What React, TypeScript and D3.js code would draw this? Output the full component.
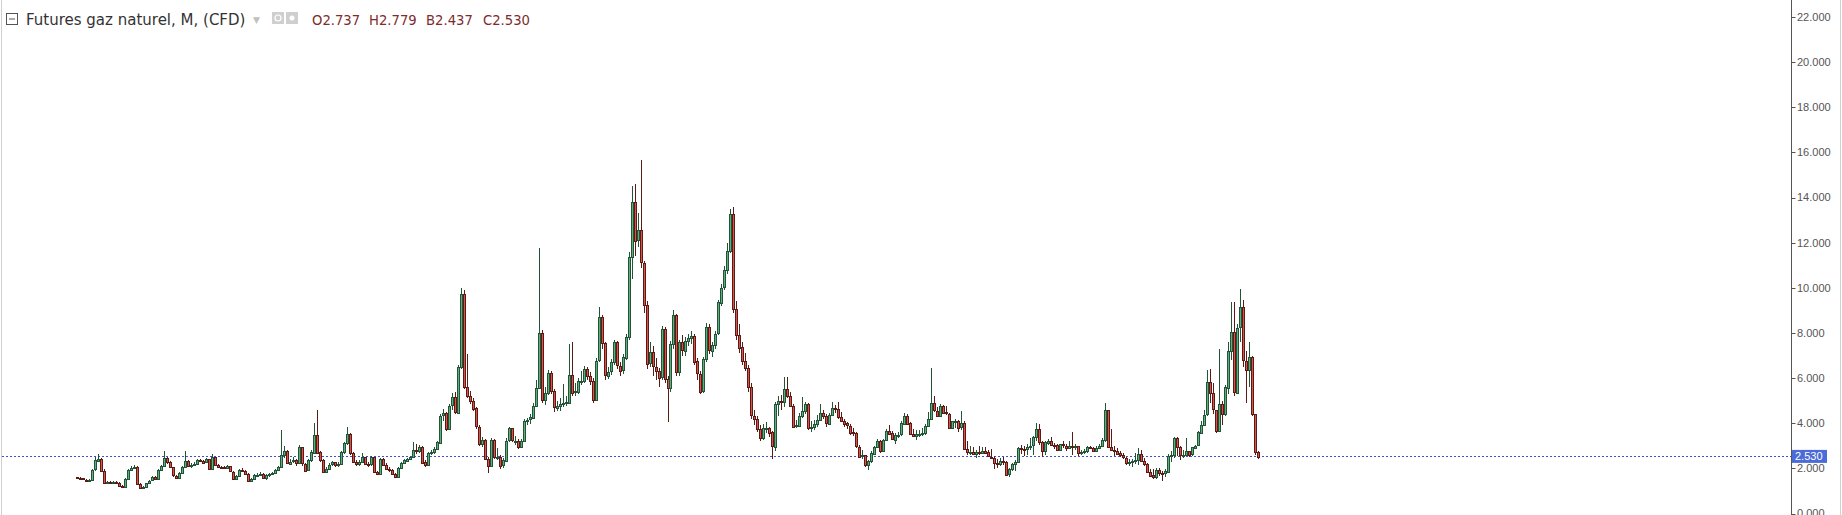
import React, { useEffect, useRef } from "react";
import * as d3 from "d3";

// Monthly candles, Apr 1990 -> Feb 2023 (open = previous close)
const firstOpen = 1.6;

const closes = [
  1.58, 1.56, 1.5, 1.45, 1.47, 1.93, 2.35, 2.42, 1.9,
  1.39, 1.39, 1.38, 1.4, 1.36, 1.22, 1.19, 1.53, 1.93, 2.02, 2.08, 1.31,
  1.14, 1.17, 1.34, 1.45, 1.6, 1.52, 1.93, 2.11, 2.46, 2.29, 2.05, 1.68,
  1.58, 1.8, 2.05, 2.33, 2.11, 2.17, 2.2, 2.37, 2.33, 2.25, 2.4, 1.96,
  2.5, 2.16, 2.06, 2.04, 2.0, 2.1, 1.86, 1.55, 1.67, 1.93, 1.9, 1.76,
  1.45, 1.52, 1.71, 1.72, 1.75, 1.58, 1.7, 1.75, 1.8, 1.92, 2.05, 2.6,
  2.76, 2.23, 2.3, 2.35, 2.2, 2.93, 2.2, 1.9, 2.35, 2.71, 3.5, 2.71,
  2.35, 1.83, 1.98, 2.17, 2.26, 2.14, 2.2, 2.71, 3.11, 3.53, 2.67, 2.27,
  2.2, 2.27, 2.49, 2.2, 2.17, 2.49, 1.83, 1.76, 2.42, 2.17, 1.98, 1.93,
  1.76, 1.64, 2.02, 2.23, 2.35, 2.42, 2.49, 2.82, 2.79, 2.96, 2.27, 2.14,
  2.67, 2.71, 2.86, 3.15, 4.34, 4.44, 3.75, 4.78, 5.15, 4.48, 6.5, 9.72,
  5.62, 5.22, 5.0, 4.66, 3.85, 3.08, 3.26, 2.42, 2.12, 3.26, 2.49, 2.52,
  2.12, 2.35, 3.23, 3.77, 3.23, 3.23, 2.96, 3.23, 4.12, 4.15, 4.26, 4.78,
  5.57, 8.02, 5.03, 5.32, 6.21, 5.41, 4.68, 4.78, 4.85, 4.88, 4.93, 6.15,
  5.37, 5.41, 5.88, 5.88, 6.4, 6.1, 5.88, 5.03, 6.77, 8.69, 7.54, 6.1,
  6.28, 6.7, 7.58, 6.55, 6.33, 6.92, 7.83, 11.37, 13.82, 12.1, 12.55, 11.12,
  9.25, 6.65, 7.14, 6.5, 6.33, 6.03, 8.17, 5.96, 5.56, 7.51, 8.79, 6.25,
  7.58, 7.21, 7.65, 7.77, 7.88, 6.74, 6.2, 5.41, 6.84, 8.25, 7.21, 7.47,
  7.96, 9.35, 10.01, 10.78, 11.64, 13.29, 9.06, 7.92, 7.36, 6.74, 6.45, 5.59,
  4.34, 4.19, 3.75, 3.35, 3.79, 3.8, 3.6, 2.96, 4.85, 5.0, 4.95, 5.52,
  5.22, 4.78, 3.85, 3.9, 4.34, 4.56, 4.85, 3.79, 3.85, 3.97, 4.15, 4.44,
  4.3, 4.0, 4.38, 4.68, 4.63, 4.29, 4.12, 4.0, 3.89, 3.6, 3.55, 2.96,
  2.52, 2.57, 2.12, 2.31, 2.67, 2.96, 3.23, 2.79, 3.26, 3.67, 3.55, 3.3,
  3.5, 3.5, 4.0, 4.34, 4.0, 3.53, 3.45, 3.53, 3.53, 3.58, 3.89, 4.19,
  4.88, 4.56, 4.34, 4.78, 4.48, 4.43, 3.79, 4.08, 4.12, 3.82, 4.0, 2.86,
  2.71, 2.71, 2.64, 2.71, 2.68, 2.79, 2.71, 2.52, 2.46, 2.23, 2.2, 2.34,
  2.3, 1.73, 1.96, 2.18, 2.29, 2.92, 2.88, 2.85, 2.96, 3.01, 3.38, 3.73,
  3.15, 2.76, 3.15, 3.23, 3.05, 3.03, 2.79, 3.06, 3.0, 2.9, 3.01, 2.96,
  2.99, 2.67, 2.73, 2.77, 2.95, 2.92, 2.79, 2.91, 3.0, 3.27, 4.59, 2.94,
  2.81, 2.79, 2.67, 2.57, 2.46, 2.25, 2.3, 2.33, 2.38, 2.64, 2.33, 2.2,
  1.86, 1.7, 1.61, 1.93, 1.8, 1.76, 1.87, 2.56, 2.61, 3.35, 2.93, 2.57,
  2.61, 2.79, 2.61, 2.93, 3.01, 3.6, 3.94, 4.38, 5.81, 5.32, 4.59, 3.67,
  4.85, 4.4, 5.59, 7.21, 8.05, 5.37, 8.23, 9.13, 6.77, 6.36, 6.92, 4.41,
  2.737, 2.53,
];

const highs = [
  1.62, 1.61, 1.58, 1.52, 1.53, 1.97, 2.52, 2.64, 2.46,
  1.95, 1.44, 1.43, 1.44, 1.42, 1.38, 1.27, 1.56, 1.98, 2.1, 2.14, 2.1,
  1.33, 1.22, 1.37, 1.5, 1.64, 1.65, 1.97, 2.16, 2.79, 2.5, 2.32, 2.08,
  1.72, 1.84, 2.1, 2.79, 2.36, 2.25, 2.28, 2.42, 2.42, 2.38, 2.45, 2.42,
  2.64, 2.52, 2.2, 2.12, 2.1, 2.16, 2.12, 1.9, 1.72, 1.98, 2.0, 1.94,
  1.78, 1.58, 1.75, 1.8, 1.82, 1.78, 1.74, 1.8, 1.84, 1.96, 2.1, 3.7,
  3.0, 2.8, 2.42, 2.5, 2.42, 3.02, 2.95, 2.25, 2.42, 2.8, 4.01, 4.59,
  2.78, 2.4, 2.05, 2.22, 2.32, 2.3, 2.26, 2.76, 3.18, 3.85, 3.55, 2.72,
  2.35, 2.35, 2.67, 2.52, 2.28, 2.55, 2.52, 1.9, 2.48, 2.45, 2.22, 2.05,
  1.98, 1.8, 2.08, 2.28, 2.42, 2.48, 2.56, 3.15, 3.1, 3.05, 3.0, 2.35,
  2.72, 2.8, 2.95, 3.22, 4.4, 4.62, 4.5, 4.85, 5.32, 5.4, 6.6, 10.01,
  9.9, 7.07, 5.45, 5.1, 4.7, 3.9, 3.4, 3.3, 2.5, 3.35, 3.3, 2.9,
  2.6, 2.45, 3.35, 3.85, 3.8, 3.45, 3.3, 3.3, 4.2, 4.25, 4.4, 4.9,
  5.9, 11.78, 8.15, 5.6, 6.35, 6.3, 5.5, 5.0, 5.1, 5.74, 5.2, 7.51,
  7.58, 5.8, 6.0, 6.3, 6.55, 6.5, 6.25, 6.0, 6.9, 9.16, 8.8, 7.6,
  6.5, 6.85, 7.7, 7.65, 6.7, 7.05, 7.95, 11.6, 14.5, 14.6, 13.3, 15.65,
  11.2, 9.4, 7.6, 7.4, 6.9, 6.45, 8.3, 8.25, 6.1, 7.65, 9.0, 8.85,
  7.7, 7.9, 7.8, 7.95, 8.1, 7.95, 6.9, 6.3, 6.95, 8.45, 8.4, 7.6,
  8.1, 9.45, 10.15, 10.95, 12.0, 13.5, 13.6, 9.4, 8.4, 7.6, 7.1, 6.6,
  5.8, 4.6, 4.3, 3.9, 3.95, 4.05, 3.85, 3.65, 4.95, 5.2, 5.25, 6.03,
  6.06, 5.4, 4.85, 4.15, 4.45, 5.15, 4.95, 4.9, 4.1, 4.15, 4.35, 4.85,
  4.6, 4.4, 4.45, 4.93, 4.8, 4.93, 4.5, 4.2, 4.05, 3.95, 3.8, 3.6,
  3.05, 2.8, 2.6, 2.35, 2.75, 3.0, 3.3, 3.25, 3.3, 3.75, 3.9, 3.65,
  3.55, 3.6, 4.1, 4.45, 4.4, 4.05, 3.75, 3.7, 3.7, 3.8, 3.95, 4.5,
  6.44, 5.2, 4.7, 4.85, 4.8, 4.75, 4.45, 4.1, 4.2, 4.15, 4.53, 4.1,
  3.2, 3.0, 2.95, 2.8, 3.0, 2.95, 2.95, 2.8, 2.85, 2.55, 2.4, 2.45,
  2.5, 2.32, 2.0, 2.22, 2.35, 2.96, 3.05, 3.0, 3.1, 3.35, 3.45, 3.99,
  3.95, 3.2, 3.2, 3.3, 3.4, 3.12, 3.1, 3.1, 3.2, 3.1, 3.2, 3.6,
  3.1, 3.0, 2.8, 2.85, 3.0, 3.0, 2.95, 3.0, 3.1, 3.33, 4.88, 4.6,
  3.75, 3.0, 2.9, 2.75, 2.7, 2.5, 2.4, 2.4, 2.7, 2.9, 2.8, 2.45,
  2.25, 1.98, 1.95, 2.0, 2.0, 1.9, 1.95, 2.62, 2.75, 3.4, 3.4, 3.0,
  2.8, 3.35, 2.75, 2.95, 3.05, 3.65, 4.1, 4.6, 6.36, 6.4, 5.8, 4.6,
  7.29, 5.0, 5.7, 7.58, 9.35, 9.35, 8.4, 9.94, 9.45, 7.2, 7.6, 7.0,
  4.4, 2.779,
];

const lows = [
  1.53, 1.52, 1.47, 1.41, 1.42, 1.45, 1.9, 2.28, 1.86,
  1.36, 1.35, 1.34, 1.35, 1.32, 1.18, 1.14, 1.17, 1.5, 1.88, 1.98, 1.28,
  1.1, 1.1, 1.14, 1.3, 1.42, 1.48, 1.5, 1.9, 2.08, 2.2, 2.0, 1.62,
  1.52, 1.55, 1.78, 2.02, 2.05, 2.0, 2.12, 2.18, 2.27, 2.18, 2.22, 1.92,
  1.94, 2.1, 2.0, 1.98, 1.95, 1.96, 1.82, 1.5, 1.52, 1.62, 1.85, 1.72,
  1.4, 1.38, 1.48, 1.66, 1.68, 1.52, 1.5, 1.62, 1.7, 1.76, 1.88, 2.02,
  2.45, 2.18, 2.15, 2.22, 2.1, 2.18, 2.12, 1.84, 1.88, 2.3, 2.68, 2.65,
  2.3, 1.78, 1.8, 1.95, 2.1, 2.08, 2.08, 2.18, 2.65, 3.05, 2.6, 2.22,
  2.1, 2.12, 2.22, 2.15, 2.05, 2.12, 1.78, 1.7, 1.72, 2.1, 1.92, 1.86,
  1.72, 1.6, 1.62, 1.98, 2.18, 2.3, 2.36, 2.45, 2.62, 2.7, 2.2, 2.05,
  2.1, 2.58, 2.65, 2.82, 3.1, 4.1, 3.65, 3.7, 4.6, 4.4, 4.45, 6.4,
  5.5, 5.1, 4.85, 4.55, 3.75, 3.0, 2.95, 2.35, 1.81, 2.05, 2.4, 2.35,
  1.95, 2.0, 2.3, 3.15, 3.15, 3.05, 2.85, 2.9, 3.2, 3.9, 3.95, 4.2,
  4.7, 5.5, 4.9, 4.8, 5.25, 5.3, 4.5, 4.55, 4.55, 4.7, 4.75, 4.9,
  5.2, 5.2, 5.3, 5.7, 5.8, 5.9, 5.7, 4.9, 5.0, 6.7, 7.3, 5.9,
  5.95, 6.15, 6.6, 6.4, 6.1, 6.2, 6.8, 7.7, 10.4, 11.4, 11.8, 10.9,
  8.9, 6.4, 6.5, 6.1, 5.9, 5.6, 5.9, 5.8, 4.04, 5.4, 7.3, 6.1,
  6.1, 7.0, 7.0, 7.4, 7.5, 6.6, 5.9, 5.3, 5.35, 6.7, 7.05, 6.95,
  7.3, 7.9, 9.2, 9.9, 10.6, 11.55, 8.9, 7.7, 7.1, 6.6, 6.3, 5.4,
  4.2, 3.9, 3.6, 3.2, 3.25, 3.55, 3.4, 2.42, 2.75, 4.3, 4.6, 4.7,
  5.1, 4.7, 3.8, 3.8, 3.85, 4.25, 4.4, 3.7, 3.6, 3.7, 3.85, 4.1,
  4.2, 3.85, 3.95, 4.3, 4.45, 4.2, 4.05, 3.85, 3.75, 3.5, 3.45, 2.9,
  2.45, 2.4, 2.05, 1.93, 2.25, 2.6, 2.9, 2.7, 2.75, 3.2, 3.5, 3.25,
  3.1, 3.35, 3.45, 3.9, 3.95, 3.5, 3.4, 3.25, 3.4, 3.45, 3.5, 3.85,
  4.15, 4.5, 4.3, 4.3, 4.4, 4.35, 3.75, 3.75, 3.8, 3.6, 3.7, 2.8,
  2.6, 2.6, 2.6, 2.46, 2.6, 2.65, 2.65, 2.5, 2.4, 1.97, 2.0, 2.1,
  2.15, 1.7, 1.61, 1.9, 1.9, 2.25, 2.65, 2.55, 2.6, 2.8, 2.6, 3.2,
  3.05, 2.52, 2.6, 3.05, 3.0, 2.85, 2.75, 2.75, 2.9, 2.75, 2.9, 2.6,
  2.8, 2.55, 2.6, 2.65, 2.7, 2.85, 2.72, 2.76, 2.85, 2.98, 3.15, 2.9,
  2.75, 2.55, 2.6, 2.5, 2.4, 2.15, 2.1, 2.05, 2.2, 2.15, 2.3, 2.1,
  1.85, 1.65, 1.55, 1.55, 1.65, 1.46, 1.6, 1.85, 2.3, 2.45, 2.55, 2.35,
  2.45, 2.55, 2.5, 2.55, 2.85, 3.0, 3.55, 3.9, 4.3, 4.9, 4.4, 3.55,
  3.6, 3.9, 4.3, 5.3, 6.8, 5.2, 5.3, 7.6, 6.5, 4.9, 5.6, 4.3,
  2.6, 2.437,
];

const priceTicks = [0, 2, 4, 6, 8, 10, 12, 14, 16, 18, 20, 22];
const lastPrice = 2.53;
const legendLetters = ["O", "H", "B", "C"];
const legendValues = [2.737, 2.779, 2.437, 2.53];

const W = 1842;
const H = 515;

export default function App() {
  const ref = useRef<SVGSVGElement>(null);

  useEffect(() => {
    if (!ref.current) return;
    const svg = d3.select(ref.current);
    svg.selectAll("*").remove();

    const x = d3.scaleLinear().domain([0, closes.length - 1]).range([77, 1258]);
    const y = d3.scaleLinear().domain([0, 22]).range([513.5, 17]);
    const fmt = d3.format(".3f");

    svg.append("rect").attr("width", W).attr("height", H).attr("fill", "#ffffff");

    // borders
    svg.append("line").attr("x1", 1.5).attr("x2", 1.5).attr("y1", 0).attr("y2", H)
      .attr("stroke", "#d0d0d0");
    svg.append("line").attr("x1", W - 1.5).attr("x2", W - 1.5).attr("y1", 0).attr("y2", H)
      .attr("stroke", "#d0d0d0");

    // last price dashed line
    svg.append("line")
      .attr("x1", 2).attr("x2", 1791)
      .attr("y1", Math.round(y(lastPrice)) + 0.5).attr("y2", Math.round(y(lastPrice)) + 0.5)
      .attr("stroke", "#3f51c4").attr("stroke-dasharray", "2,2").attr("stroke-width", 1);

    const data = closes.map((c, i) => ({
      i,
      o: i === 0 ? firstOpen : closes[i - 1],
      h: highs[i],
      l: lows[i],
      c,
    }));

    const g = svg.append("g").attr("shape-rendering", "crispEdges");
    const candle = g.selectAll("g.c").data(data).enter().append("g").attr("class", "c");
    candle.append("line")
      .attr("x1", (d) => Math.round(x(d.i)) + 0.5)
      .attr("x2", (d) => Math.round(x(d.i)) + 0.5)
      .attr("y1", (d) => Math.round(y(d.h)))
      .attr("y2", (d) => Math.round(y(d.l)))
      .attr("stroke", (d) => (d.c >= d.o ? "#225437" : "#5b1a13"))
      .attr("stroke-width", 1);
    candle.append("rect")
      .attr("x", (d) => Math.round(x(d.i)) - 0.5)
      .attr("width", 2)
      .attr("y", (d) => Math.round(y(Math.max(d.o, d.c))) + 0.5)
      .attr("height", (d) => Math.max(1, Math.round(Math.abs(y(d.o) - y(d.c)))))
      .attr("fill", (d) => (d.c >= d.o ? "#5fae7e" : "#d9534a"))
      .attr("stroke", (d) => (d.c >= d.o ? "#225437" : "#5b1a13"))
      .attr("stroke-width", 1);

    // right price axis
    const ax = svg.append("g");
    ax.append("line").attr("x1", 1791.5).attr("x2", 1791.5).attr("y1", 0).attr("y2", H)
      .attr("stroke", "#555555");
    const tk = ax.selectAll("g.t").data(priceTicks).enter().append("g").attr("class", "t");
    tk.append("line")
      .attr("x1", 1791.5).attr("x2", 1795.5)
      .attr("y1", (d) => Math.round(y(d)) + 0.5).attr("y2", (d) => Math.round(y(d)) + 0.5)
      .attr("stroke", "#555555");
    tk.append("text")
      .attr("x", 1797)
      .attr("y", (d) => y(d))
      .attr("dy", "0.35em")
      .attr("font-family", "'Liberation Sans', Arial, sans-serif")
      .attr("font-size", 11)
      .attr("fill", "#555555")
      .text((d) => fmt(d));

    // last price badge
    const yl = y(lastPrice);
    ax.append("rect").attr("x", 1792).attr("y", yl - 6.5).attr("width", 35).attr("height", 13)
      .attr("fill", "#4a6bd8");
    ax.append("text").attr("x", 1795).attr("y", yl).attr("dy", "0.35em")
      .attr("font-family", "'Liberation Sans', Arial, sans-serif").attr("font-size", 11)
      .attr("fill", "#ffffff").text(fmt(lastPrice));
  }, []);

  return (
    <div style={{ position: "absolute", left: 0, top: 0, width: W, height: H, overflow: "hidden" }}>
      <svg ref={ref} width={W} height={H} style={{ position: "absolute", left: 0, top: 0 }} />
      <svg width={W} height={40} style={{ position: "absolute", left: 0, top: 0 }}>
        <rect x={6.5} y={13.5} width={11} height={11} fill="none" stroke="#555" />
        <line x1={9} x2={15} y1={19} y2={19} stroke="#555" />
        <text x={26} y={24.5} fontFamily="'DejaVu Sans', Verdana, sans-serif" fontSize={15} fill="#333333">
          Futures gaz naturel, M, (CFD)
        </text>
        <text x={253} y={23} fontFamily="'DejaVu Sans', sans-serif" fontSize={9} fill="#c0c0c0">▼</text>
        <rect x={272} y={12} width={12} height={12} fill="#cfcfcf" />
        <circle cx={278} cy={18} r={3} fill="none" stroke="#fff" strokeWidth={1.2} />
        <rect x={286} y={12} width={12} height={12} fill="#cfcfcf" />
        <circle cx={292} cy={18} r={2.5} fill="#fff" />
        {legendLetters.map((l, k) => (
          <text key={l} x={312 + k * 57} y={24.5} fontFamily="'DejaVu Sans', Verdana, sans-serif"
            fontSize={13.2} fill="#7e2b2b">
            {l}{legendValues[k].toFixed(3)}
          </text>
        ))}
      </svg>
    </div>
  );
}
